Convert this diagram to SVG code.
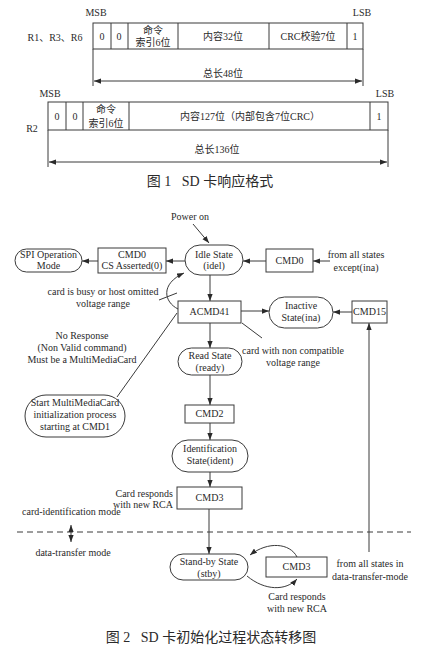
<svg xmlns="http://www.w3.org/2000/svg" width="423" height="648" viewBox="0 0 423 648">
<style>
text{font-family:"Liberation Serif","Noto Sans CJK SC",serif;font-size:10px;fill:#2a2a2a;text-anchor:middle}
.l{text-anchor:start}.r{text-anchor:end}
.cap{font-size:14px}
.sh{fill:#fff;stroke:#3a3a3a;stroke-width:1}
.ln{fill:none;stroke:#3a3a3a;stroke-width:1}
.ar{fill:none;stroke:#3a3a3a;stroke-width:1;marker-end:url(#ah)}
.da{fill:none;stroke:#3a3a3a;stroke-width:1;marker-start:url(#ah);marker-end:url(#ah)}
</style>
<defs>
<marker id="ah" viewBox="0 0 8 6" refX="8" refY="3" markerWidth="7" markerHeight="5.5" markerUnits="userSpaceOnUse" orient="auto-start-reverse"><path d="M0,0 L8,3 L0,6 z" fill="#2a2a2a"/></marker>
</defs>

<g id="fig1-r1">
<text x="96" y="16">MSB</text>
<text x="362" y="16">LSB</text>
<text x="55" y="41">R1、R3、R6</text>
<rect class="sh" x="93" y="23" width="270" height="26"/>
<path class="ln" d="M111,23V49M128,23V49M178,23V49M269,23V49M347,23V49M93,49V86M363,49V86"/>
<path class="da" d="M94,81H362"/>
<text x="102" y="40">0</text>
<text x="119" y="40">0</text>
<text x="153" y="34">命令</text>
<text x="153" y="46">索引6位</text>
<text x="223" y="40">内容32位</text>
<text x="308" y="40">CRC校验7位</text>
<text x="355" y="40">1</text>
<text x="223" y="77">总长48位</text>
</g>

<g id="fig1-r2">
<text x="50" y="97">MSB</text>
<text x="385" y="97">LSB</text>
<text x="32" y="132">R2</text>
<rect class="sh" x="48" y="102" width="340" height="28"/>
<path class="ln" d="M66,102V130M83,102V130M129,102V130M370,102V130M48,130V167M388,130V167"/>
<path class="da" d="M49,162H387"/>
<text x="57" y="120">0</text>
<text x="75" y="120">0</text>
<text x="106" y="113">命令</text>
<text x="106" y="127">索引6位</text>
<text x="250" y="120">内容127位（内部包含7位CRC）</text>
<text x="379" y="120">1</text>
<text x="217" y="153">总长136位</text>
</g>
<text class="cap" x="210" y="186" xml:space="preserve">图 1   SD 卡响应格式</text>

<g id="connectors">
<path class="ar" d="M193,224L209,243"/>
<path class="ar" d="M185,261H166"/>
<path class="ar" d="M98,261H82"/>
<path class="ar" d="M266,261H243"/>
<path class="ar" d="M330,261H313"/>
<path class="ar" d="M210,275V301"/>
<path class="ar" d="M241,311H269"/>
<path class="ar" d="M352,312H333"/>
<path class="ar" d="M369,552V323"/>
<path class="ar" d="M210,323V348"/>
<path class="ar" d="M210,375V405"/>
<path class="ar" d="M210,423V440"/>
<path class="ar" d="M210,472V487"/>
<path class="ar" d="M209,509V554"/>
<path class="ar" d="M178,309C164,302 160,284 184,273"/>
<path class="ln" d="M159,300L177,293"/>
<path class="ln" d="M177,313L117,397"/>
<path class="ln" d="M242,323L262,338"/>
<path class="ar" d="M297,557C290,543 268,541 250,555"/>
<path class="ar" d="M247,576C265,591 286,591 297,579"/>
<path class="ln" d="M17,532H411" stroke-dasharray="6,4"/>
<path class="da" d="M71,525V542"/>
</g>

<text x="190" y="220">Power on</text>

<g id="spi"><rect class="sh" x="15" y="249" width="67" height="23" rx="11.5"/><text x="48.5" y="258">SPI Operation</text><text x="48.5" y="269">Mode</text></g>
<g id="cmd0cs"><rect class="sh" x="98" y="248" width="68" height="25"/><text x="132" y="258">CMD0</text><text x="132" y="269">CS Asserted(0)</text></g>
<g id="idle"><rect class="sh" x="185" y="245" width="58" height="30" rx="15"/><text x="214" y="258">Idle State</text><text x="214" y="269">(idel)</text></g>
<g id="cmd0"><rect class="sh" x="266" y="249" width="47" height="23"/><text x="289.5" y="264">CMD0</text></g>
<text x="356" y="258">from all states</text>
<text x="356" y="271">except(ina)</text>
<g id="acmd41"><rect class="sh" x="178" y="301" width="63" height="22"/><text x="209.5" y="315">ACMD41</text></g>
<g id="inactive"><rect class="sh" x="269" y="297" width="64" height="31" rx="15.5"/><text x="301" y="309">Inactive</text><text x="301" y="321">State(ina)</text></g>
<g id="cmd15"><rect class="sh" x="352" y="301" width="35" height="22"/><text x="369.5" y="315">CMD15</text></g>
<text x="103" y="295">card is busy or host omitted</text>
<text x="103" y="307">voltage range</text>
<text x="82" y="339">No Response</text>
<text x="82" y="351">(Non Valid command)</text>
<text x="82" y="363">Must be a MultiMediaCard</text>
<text x="293" y="354">card with non compatible</text>
<text x="293" y="366">voltage range</text>
<g id="ready"><rect class="sh" x="178" y="348" width="64" height="27" rx="13.5"/><text x="210" y="359">Read State</text><text x="210" y="371">(ready)</text></g>
<g id="startmmc"><rect class="sh" x="25" y="395" width="100" height="42" rx="21"/><text x="75" y="406">Start MultiMediaCard</text><text x="75" y="418">initialization process</text><text x="75" y="430">starting at CMD1</text></g>
<g id="cmd2"><rect class="sh" x="185" y="405" width="49" height="18"/><text x="209.5" y="417">CMD2</text></g>
<g id="ident"><rect class="sh" x="172" y="440" width="76" height="32" rx="16"/><text x="210" y="452">Identification</text><text x="210" y="464">State(ident)</text></g>
<g id="cmd3"><rect class="sh" x="177" y="487" width="65" height="22"/><text x="209.5" y="501">CMD3</text></g>
<text class="r" x="173" y="497">Card responds</text>
<text class="r" x="173" y="508">with new RCA</text>
<text class="l" x="22" y="515">card-identification mode</text>
<text x="73" y="556">data-transfer mode</text>
<g id="stby"><rect class="sh" x="170" y="554" width="78" height="26" rx="13"/><text x="209" y="565">Stand-by State</text><text x="209" y="577">(stby)</text></g>
<g id="cmd3b"><rect class="sh" x="266" y="557" width="61" height="20"/><text x="296.5" y="570">CMD3</text></g>
<text x="297" y="600">Card responds</text>
<text x="297" y="612">with new RCA</text>
<text x="370" y="567">from all states in</text>
<text x="370" y="580">data-transfer-mode</text>
<text class="cap" x="211" y="642" xml:space="preserve">图 2   SD 卡初始化过程状态转移图</text>
</svg>
